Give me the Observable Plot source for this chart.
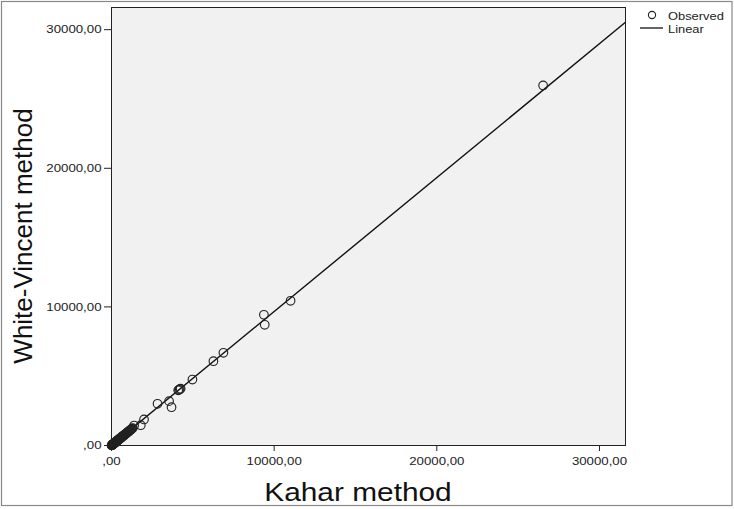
<!DOCTYPE html>
<html>
<head>
<meta charset="utf-8">
<script src="https://cdn.jsdelivr.net/npm/d3@7"></script>
<script src="https://cdn.jsdelivr.net/npm/@observablehq/plot@0.6"></script>
<style>
  html, body { margin: 0; padding: 0; background: #fff; }
  #chart { width: 734px; height: 509px; }
</style>
</head>
<body>
<div id="chart"></div>
<script>
// Observed pairs: Kahar method (x) vs White-Vincent method (y)
const kahar = [5, 15, 22, 30, 38, 45, 52, 60, 70, 80, 88, 95, 105, 110, 120, 130, 140, 150, 160, 170, 180, 190,
  200, 210, 222, 235, 248, 260, 270, 280, 290, 300, 315, 330, 345, 360, 375, 390, 405, 420, 435,
  450, 465, 480, 495, 510, 525, 540, 560, 580, 600, 620, 640, 660, 680, 700, 725, 750, 775, 800, 825, 850,
  875, 900, 930, 960, 990, 1020, 1050, 1080, 1115, 1150, 1185, 1220, 1260, 1300,
  1390, 1800, 2000, 2830, 3540, 3690, 4100, 4150, 4200, 4250, 4975, 6265, 6880, 9370, 9420, 11010, 26535];
const whiteVincent = [8, 12, 25, 28, 30, 40, 55, 58, 62, 74, 90, 92, 95, 100, 118, 125, 138, 140, 152, 165, 178, 180,
  185, 200, 218, 225, 232, 250, 262, 270, 285, 290, 300, 315, 335, 345, 360, 375, 395, 400, 420,
  440, 445, 460, 482, 495, 505, 520, 545, 560, 575, 600, 625, 635, 660, 680, 700, 720, 750, 770, 800, 820,
  845, 870, 895, 930, 955, 985, 1010, 1040, 1080, 1110, 1140, 1180, 1215, 1250,
  1440, 1465, 1880, 3010, 3200, 2760, 3980, 4020, 4060, 4100, 4760, 6080, 6690, 9430, 8710, 10440, 25975];

// Linear fit
const fitIntercept = 10;
const fitSlope = 0.966;

const axisDomain = [0, 31600];
const tickValues = [0, 10000, 20000, 30000];
const tickLabels = [",00", "10000,00", "20000,00", "30000,00"];

const xTitle = "Kahar method";
const yTitle = "White-Vincent method";
const legendLabels = ["Observed", "Linear"];

const points = kahar.map((k, i) => ({x: k, y: whiteVincent[i]}));
const fitLine = axisDomain.map(x => ({x, y: fitIntercept + fitSlope * x}));
const fmt = d => tickLabels[tickValues.indexOf(d)];

const W = 734, H = 509;
const chart = Plot.plot({
  width: W,
  height: H,
  marginLeft: 111,
  marginRight: 109,
  marginTop: 7,
  marginBottom: 64,
  style: {fontFamily: "'Liberation Sans', Arial, sans-serif", fontSize: "11.5px", color: "#222", background: "#fff"},
  x: {domain: axisDomain, ticks: tickValues, tickFormat: fmt, tickSize: 6, tickPadding: 5, label: null},
  y: {domain: axisDomain, ticks: tickValues, tickFormat: fmt, tickSize: 7, tickPadding: 3, label: null},
  marks: [
    Plot.frame({fill: "#f1f1f1", stroke: "none"}),
    Plot.line(fitLine, {x: "x", y: "y", stroke: "#111", strokeWidth: 1.4, clip: true}),
    Plot.dot(points, {x: "x", y: "y", r: 4.3, stroke: "#222", strokeWidth: 1.15, fill: "none"}),
    Plot.frame({stroke: "#222", strokeWidth: 1})
  ]
});
document.getElementById("chart").appendChild(chart);

const svg = d3.select(chart);
// stretch tick labels horizontally like the reference
svg.selectAll('g[aria-label="x-axis tick label"] text, g[aria-label="y-axis tick label"] text').each(function() {
  const w = this.getComputedTextLength();
  this.setAttribute("textLength", w * 1.15);
  this.setAttribute("lengthAdjust", "spacingAndGlyphs");
});

// outer border
svg.append("rect").attr("x", 1.5).attr("y", 1.5).attr("width", W - 3.5).attr("height", H - 5)
  .attr("fill", "none").attr("stroke", "#8a8a8a").attr("stroke-width", 1.2);

// axis titles
const xt = svg.append("text").attr("x", 358).attr("y", 501).attr("text-anchor", "middle")
  .attr("font-size", 25.5).attr("fill", "#111").text(xTitle);
xt.attr("textLength", xt.node().getComputedTextLength() * 1.17).attr("lengthAdjust", "spacingAndGlyphs");

svg.append("text").attr("transform", "translate(32,236) rotate(-90)").attr("text-anchor", "middle")
  .attr("font-size", 26).attr("fill", "#111").text(yTitle);

// legend
const lg = svg.append("g").attr("text-anchor", "start");
lg.append("circle").attr("cx", 652).attr("cy", 15).attr("r", 3.6).attr("fill", "none").attr("stroke", "#222").attr("stroke-width", 1.1);
lg.append("line").attr("x1", 640).attr("x2", 663).attr("y1", 28).attr("y2", 28).attr("stroke", "#111").attr("stroke-width", 1.3);
legendLabels.forEach((t, i) => {
  const el = lg.append("text").attr("x", 668).attr("y", 20 + i * 13).attr("text-anchor", "start")
    .attr("font-size", 11.5).attr("fill", "#222").text(t);
  el.attr("textLength", el.node().getComputedTextLength() * 1.12).attr("lengthAdjust", "spacingAndGlyphs");
});
</script>
</body>
</html>
